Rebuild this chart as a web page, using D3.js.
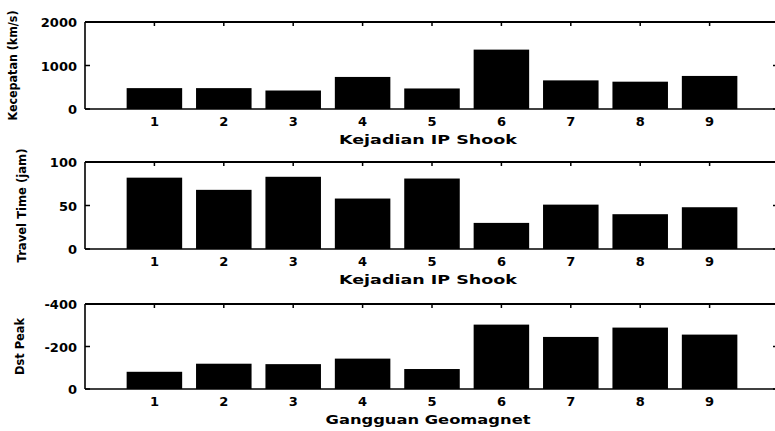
<!DOCTYPE html>
<html>
<head>
<meta charset="utf-8">
<script src="https://cdn.jsdelivr.net/npm/d3@7"></script>
<style>
  html, body { margin: 0; padding: 0; background: #fff; }
  svg { display: block; }
  text { font-family: "DejaVu Sans", "Liberation Sans", Arial, sans-serif; font-weight: bold; fill: #000; }
</style>
</head>
<body>
<svg id="chart" width="775" height="431"></svg>
<script>
// Event numbers along the x axis
const events = ["1", "2", "3", "4", "5", "6", "7", "8", "9"];

// Shock speed (km/s) for each IP shock event
const kecepatan = [480, 480, 425, 737, 472, 1365, 658, 628, 760];
// Travel time (hours) for each IP shock event
const travelTime = [82, 68, 83, 58, 81, 30, 51, 40, 48];
// Peak Dst (nT) of each geomagnetic disturbance
const dstPeak = [-81, -119, -117, -143, -94, -303, -245, -289, -256];

// Y tick values for each panel
const ticksKecepatan = [0, 1000, 2000];
const ticksTravel = [0, 50, 100];
const ticksDst = [0, -200, -400];

const svg = d3.select("#chart");

const x = d3.scaleLinear().domain([0, 10]).range([85, 779]);

const panels = [
  { values: kecepatan, domain: [0, 2000], ticks: ticksKecepatan, top: 22, bottom: 109,
    ylabel: "Kecepatan (km/s)", ylabelX: 13, ylabelLen: 110,
    xlabel: "Kejadian IP Shook", xlabelLen: 178 },
  { values: travelTime, domain: [0, 100], ticks: ticksTravel, top: 162, bottom: 249,
    ylabel: "Travel Time (jam)", ylabelX: 22, ylabelLen: 114,
    xlabel: "Kejadian IP Shook", xlabelLen: 178 },
  { values: dstPeak, domain: [0, -400], ticks: ticksDst, top: 304, bottom: 389,
    ylabel: "Dst Peak", ylabelX: 20, ylabelLen: 57,
    xlabel: "Gangguan Geomagnet", xlabelLen: 205 }
];

panels.forEach(p => {
  const y = d3.scaleLinear().domain(p.domain).range([p.bottom, p.top]);
  const g = svg.append("g");
  const left = x.range()[0], right = x.range()[1];

  // Box frame
  g.append("line").attr("x1", left).attr("x2", right).attr("y1", p.top).attr("y2", p.top)
    .attr("stroke", "#000").attr("stroke-width", 2);
  g.append("line").attr("x1", left).attr("x2", left).attr("y1", p.top).attr("y2", p.bottom)
    .attr("stroke", "#000").attr("stroke-width", 1.6);
  g.append("line").attr("x1", left).attr("x2", right).attr("y1", p.bottom).attr("y2", p.bottom)
    .attr("stroke", "#000").attr("stroke-width", 1.6);
  g.append("line").attr("x1", right).attr("x2", right).attr("y1", p.top).attr("y2", p.bottom)
    .attr("stroke", "#000").attr("stroke-width", 1.6);

  // Inward ticks on the top edge at each event
  g.selectAll("line.xtick").data(events).join("line").attr("class", "xtick")
    .attr("x1", (d, i) => x(i + 1)).attr("x2", (d, i) => x(i + 1))
    .attr("y1", p.top).attr("y2", p.top + 4)
    .attr("stroke", "#000").attr("stroke-width", 1.5);

  // Inward ticks on left and right edges
  g.selectAll("line.ytickL").data(p.ticks).join("line").attr("class", "ytickL")
    .attr("x1", left).attr("x2", left + 5)
    .attr("y1", d => y(d)).attr("y2", d => y(d))
    .attr("stroke", "#000").attr("stroke-width", 1.5);
  g.selectAll("line.ytickR").data(p.ticks).join("line").attr("class", "ytickR")
    .attr("x1", right - 6).attr("x2", right)
    .attr("y1", d => y(d)).attr("y2", d => y(d))
    .attr("stroke", "#000").attr("stroke-width", 1.5);

  // Bars (width 0.8 of the category spacing)
  g.selectAll("rect.bar").data(p.values).join("rect").attr("class", "bar")
    .attr("x", (d, i) => x(i + 1 - 0.4))
    .attr("width", x(0.8) - x(0))
    .attr("y", d => Math.min(y(0), y(d)))
    .attr("height", d => Math.abs(y(d) - y(0)))
    .attr("fill", "#000");

  // X tick labels
  g.selectAll("text.xlab").data(events).join("text").attr("class", "xlab")
    .attr("x", (d, i) => x(i + 1)).attr("y", p.bottom + 17)
    .attr("text-anchor", "middle").attr("font-size", 13)
    .text(d => d);

  // Y tick labels (plain hyphen for negatives)
  g.selectAll("text.ylab").data(p.ticks).join("text").attr("class", "ylab")
    .attr("x", left - 8).attr("y", d => y(d) + 5)
    .attr("text-anchor", "end").attr("font-size", 13)
    .text(d => String(d));

  // Axis titles
  g.append("text")
    .attr("x", 428).attr("y", p.bottom + 35)
    .attr("text-anchor", "middle").attr("font-size", 13)
    .attr("textLength", p.xlabelLen).attr("lengthAdjust", "spacingAndGlyphs")
    .text(p.xlabel);

  g.append("text")
    .attr("transform", `translate(${p.ylabelX},${(p.top + p.bottom) / 2}) rotate(-90)`)
    .attr("text-anchor", "middle").attr("dy", "0.35em").attr("font-size", 12)
    .attr("textLength", p.ylabelLen).attr("lengthAdjust", "spacingAndGlyphs")
    .text(p.ylabel);
});
</script>
</body>
</html>
